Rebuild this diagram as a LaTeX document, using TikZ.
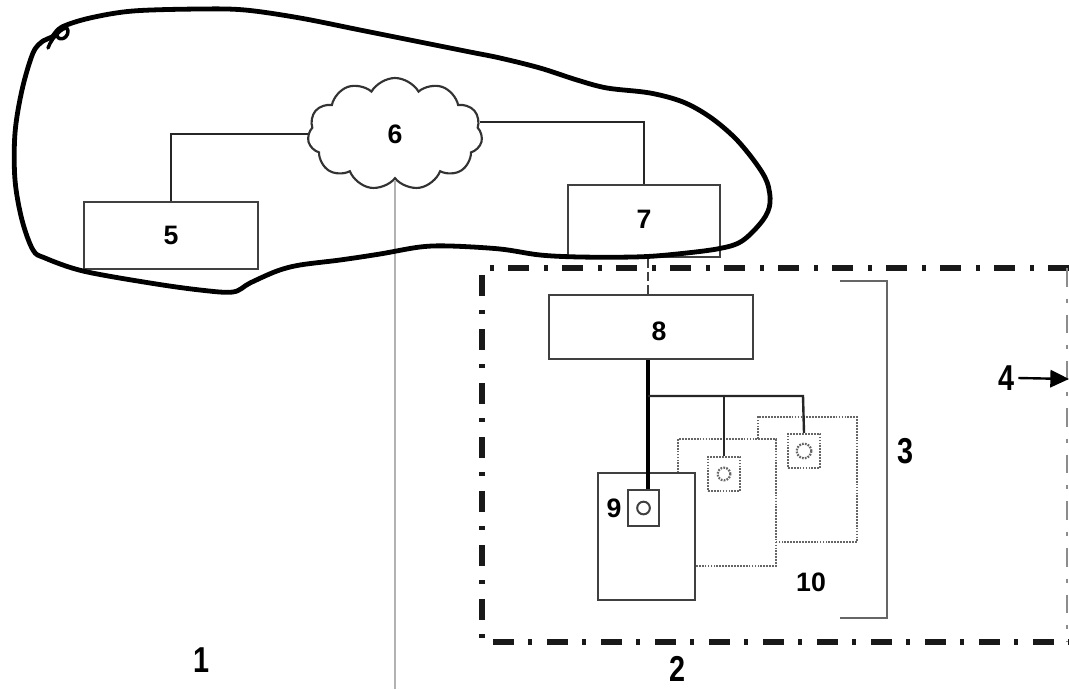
\documentclass[tikz,border=0pt]{standalone}
\usepackage{fontspec}
\setmainfont{Liberation Sans}
\usetikzlibrary{shapes.symbols,fit,arrows.meta}
\tikzset{
  box/.style={draw=black!75, line width=1.8pt, inner sep=0pt},
  dotbox/.style={draw=black!60, line width=1.7pt, dash pattern=on 1.3pt off 0.9pt},
  wire/.style={draw=black!85, line width=1.8pt},
  bigwire/.style={draw=black, line width=2.6pt},
  lbl/.style={font=\fontsize{20}{20}\selectfont\bfseries, inner sep=0pt},
  biglbl/.style={font=\fontsize{27}{27}\selectfont\bfseries, inner sep=0pt},
  dashdot/.style={draw=black!90, line width=3.8pt, dash pattern=on 15.5pt off 11pt on 3pt off 11pt},
  hand/.style={draw=black, line width=3.6pt, line join=round, line cap=round},
}
\begin{document}
\begin{tikzpicture}[x=0.75pt,y=-0.75pt]
\useasboundingbox (0,0) rectangle (1069,689);
% top network
\node[box, fit={(84,202) (258,269)}] (b5) {};
\node[lbl] (l5) at (b5.center) {5};
\node[box, fit={(568,185) (720,257)}] (b7) {};
\node[lbl] (l7) at ([yshift=1.5pt]b7.center) {7};
\node[cloud, draw=black!80, line width=1.6pt, cloud puffs=11, cloud puff arc=120, aspect=1.55,
      minimum width=131pt, minimum height=84pt, inner sep=0pt] (c6) at (395,134) {};
\node[lbl] (l6) at (c6.center) {6};
\draw[wire] (b5.north) |- (c6.west);
\draw[wire] (c6.8) -| (b7.north);
\coordinate (gbot) at (c6.south |- 0,689);
\draw[draw=black!30, line width=2.2pt] (c6.south) -- (gbot);
% dash-dot enclosure
\draw[dashdot] (1069,268) -- (482,268) -- (482,642) -- (1069,642);
\draw[draw=black!45, line width=1.6pt, dash pattern=on 14pt off 9pt on 3pt off 9pt] (1067,268) -- (1067,642);
% box 8
\node[box, fit={(549,295) (753,359)}] (b8) {};
\node[lbl] (l8) at ([xshift=6pt,yshift=-3pt]b8.center) {8};
\draw[draw=black!75, line width=1.8pt, dash pattern=on 7pt off 3pt] (b7.south -| 648,0) -- (b8.north -| 648,0);
% dotted devices (behind)
\draw[dotbox] (758,439) -- (758,417) -- (857,417) -- (857,542) -- (776,542);
\node[dotbox, draw, fit={(788,434) (820,468)}, inner sep=0pt] (s3) {};
\node[dotbox, draw, circle, minimum size=11pt, inner sep=0pt] at (s3.center) {};
\draw[dotbox] (678,473) -- (678,439) -- (776,439) -- (776,566) -- (695,566);
\node[dotbox, draw, fit={(708,457) (740,491)}, inner sep=0pt] (s2) {};
\node[dotbox, draw, circle, minimum size=9.5pt, inner sep=0pt] at (s2.center) {};
% device 9
\node[box, fit={(598,473) (695,600)}] (d9) {};
\node[box, fit={(628,490) (659,526)}] (s9) {};
\node[draw=black!75, line width=1.5pt, circle, minimum size=9.5pt, inner sep=0pt] at (s9.center) {};
\node[lbl] (l9) at (614,508) {9};
\node[lbl] (l10) at (811,582) {10};
% bus
\coordinate (j1) at (648,396);
\draw[bigwire] (b8.south -| 648,0) -- (s9.north -| 648,0);
\draw[wire] (j1) -- (803,396) -- (s3.north);
\draw[wire] (s2.north |- j1) -- (s2.north);
% bracket 3
\draw[draw=black!60, line width=2.2pt] (840,281) -- (887,281) -- (887,618) -- (840,618);
\node[biglbl] (l3) at (905,451) {\scalebox{0.8}[1]{3}};
% arrow 4
\node[biglbl] (l4) at (1006,378) {\scalebox{0.8}[1]{4}};
\coordinate (a4) at (1069,379);
\draw[line width=1.8pt, -{Triangle[length=14pt,width=13pt]}] (l4.east) ++(4,0) -- (a4);
\node[biglbl] (l1) at (202,660) {\scalebox{0.8}[1]{1}};
\node[biglbl] (l2) at (677,669) {\scalebox{0.8}[1]{2}};
% hand-drawn outline
\draw[hand] plot[smooth cycle, tension=0.55] coordinates {
 (62,27) (90,18) (133,11) (200,9) (245,10) (300,18) (360,30) (420,42) (470,52) (500,58)
 (540,68) (577,80) (607,88) (650,93) (683,102) (710,117) (735,138) (755,162) (767,182)
 (770,203) (763,220) (742,241) (717,249) (667,255) (633,257) (580,257) (540,255) (500,249)
 (450,246) (420,247) (380,254) (340,260) (300,265) (277,271) (250,283) (233,292) (200,290)
 (150,283) (83,271) (45,258) (33,250) (22,220) (15,180) (15,133) (22,90) (33,53) (43,41) (52,37)};
\draw[hand, line width=2.6pt] (48,48) .. controls (52,36) and (68,22) .. (68,31) .. controls (68,40) and (56,42) .. (57,33);
\end{tikzpicture}
\end{document}
